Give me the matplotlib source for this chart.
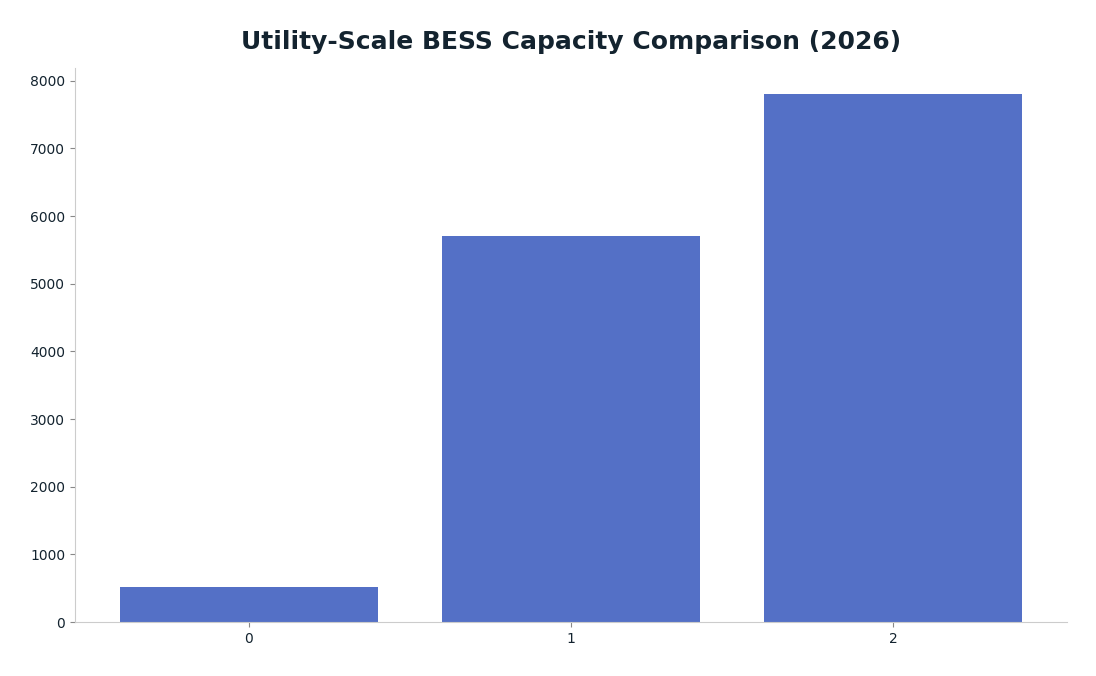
import matplotlib
matplotlib.use('Agg')
import matplotlib.pyplot as plt

categories = [0, 1, 2]
capacity = [520, 5700, 7800]

fig = plt.figure(figsize=(10.96, 6.76), dpi=100)
ax = fig.add_axes([75/1096, 1 - 622/676, 992/1096, 554/676])
ax.bar(categories, capacity, width=0.8, color='#5470c6')
ax.set_xticks(categories)
ax.set_title('Utility-Scale BESS Capacity Comparison (2026)', fontsize=18,
             fontweight='bold', color='#13232f', pad=14)
for side in ('top', 'right'):
    ax.spines[side].set_visible(False)
for side in ('left', 'bottom'):
    ax.spines[side].set_color('#cccccc')
ax.tick_params(colors='#13232f', labelsize=10)
ax.tick_params(axis='both', color='#888888')
plt.savefig('out.png', dpi=100)
